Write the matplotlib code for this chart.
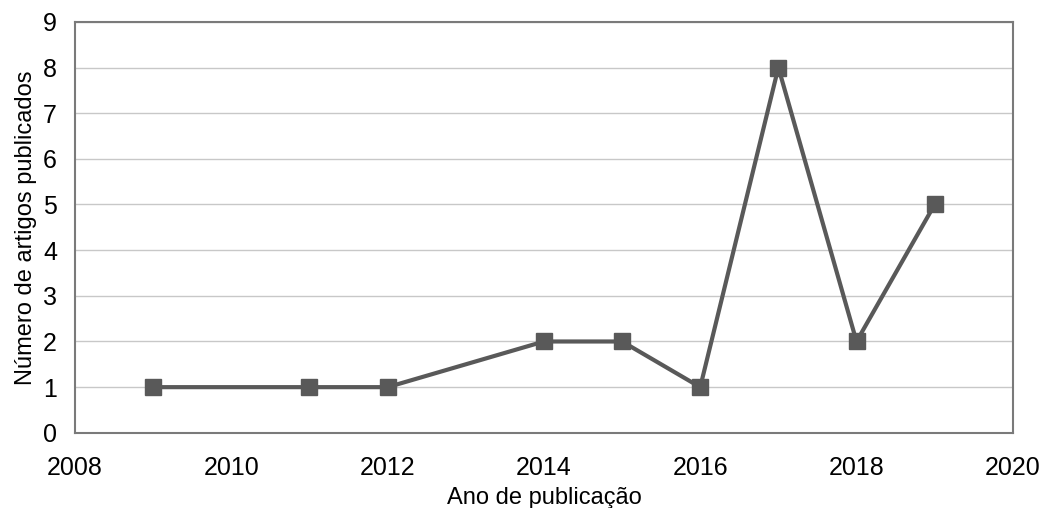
import matplotlib
matplotlib.use("Agg")
import matplotlib.pyplot as plt

years = [2009, 2011, 2012, 2014, 2015, 2016, 2017, 2018, 2019]
artigos = [1, 1, 1, 2, 2, 1, 8, 2, 5]

plt.rcParams["font.family"] = ["Liberation Sans", "DejaVu Sans"]

fig = plt.figure(figsize=(10.42, 5.08), dpi=100)
ax = fig.add_axes([0.072, 0.148, 0.900, 0.809])

ax.plot(years, artigos, color="#595959", lw=3, marker="s", ms=12,
        markerfacecolor="#595959", markeredgecolor="#595959", zorder=3)

ax.set_xlim(2008, 2020)
ax.set_ylim(0, 9)
ax.set_xticks(range(2008, 2021, 2))
ax.set_yticks(range(0, 10))
ax.yaxis.grid(True, color="#c8c8c8", lw=1)
ax.set_axisbelow(True)
ax.tick_params(length=0, labelsize=18)
ax.tick_params(axis="x", pad=17)
ax.tick_params(axis="y", pad=13)
for s in ax.spines.values():
    s.set_color("#7a7a7a")
    s.set_linewidth(1.5)

ax.set_xlabel("Ano de publicação", fontsize=17, labelpad=5)
ax.set_ylabel("Número de artigos publicados", fontsize=17, labelpad=4)

fig.savefig("out.png", dpi=100)
